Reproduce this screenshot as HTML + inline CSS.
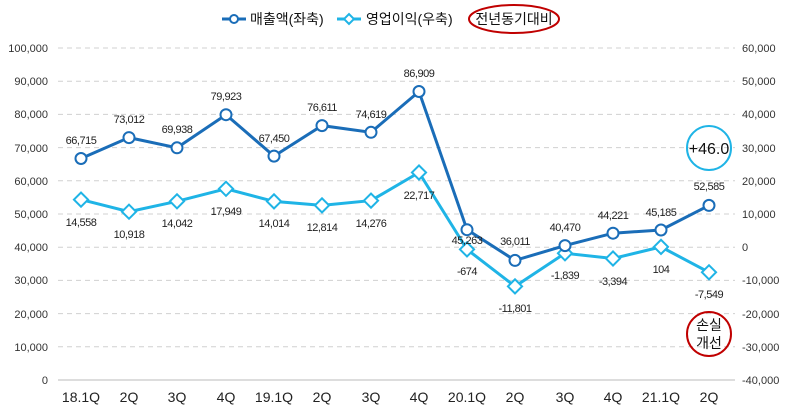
<!DOCTYPE html>
<html><head><meta charset="utf-8"><style>
body{margin:0;background:#fff}
text{font-family:"Liberation Sans","Noto Sans CJK KR",sans-serif}
</style></head><body>
<svg width="788" height="410" xmlns="http://www.w3.org/2000/svg">
<g stroke="#d0d0d0" stroke-dasharray="5,4" stroke-width="1">
<line x1="58" x2="735" y1="48" y2="48"/><line x1="58" x2="735" y1="81.2" y2="81.2"/>
<line x1="58" x2="735" y1="114.4" y2="114.4"/><line x1="58" x2="735" y1="147.6" y2="147.6"/>
<line x1="58" x2="735" y1="180.8" y2="180.8"/><line x1="58" x2="735" y1="214" y2="214"/>
<line x1="58" x2="735" y1="247.2" y2="247.2"/><line x1="58" x2="735" y1="280.4" y2="280.4"/>
<line x1="58" x2="735" y1="313.6" y2="313.6"/><line x1="58" x2="735" y1="346.8" y2="346.8"/>
</g>
<line x1="58" x2="735" y1="380" y2="380" stroke="#bbb"/>
<g font-size="11" fill="#333" text-anchor="end">
<text x="48" y="52">100,000</text><text x="48" y="85">90,000</text><text x="48" y="118">80,000</text>
<text x="48" y="152">70,000</text><text x="48" y="185">60,000</text><text x="48" y="218">50,000</text>
<text x="48" y="251">40,000</text><text x="48" y="284">30,000</text><text x="48" y="318">20,000</text>
<text x="48" y="351">10,000</text><text x="48" y="384">0</text>
</g>
<g font-size="11" fill="#333">
<text x="742" y="52">60,000</text><text x="742" y="85">50,000</text><text x="742" y="118">40,000</text>
<text x="742" y="152">30,000</text><text x="742" y="185">20,000</text><text x="742" y="218">10,000</text>
<text x="742" y="251">0</text><text x="742" y="284">-10,000</text><text x="742" y="318">-20,000</text>
<text x="742" y="351">-30,000</text><text x="742" y="384">-40,000</text>
</g>
<g font-size="14" fill="#222" text-anchor="middle">
<text x="81" y="402">18.1Q</text><text x="129" y="402">2Q</text><text x="177" y="402">3Q</text>
<text x="226" y="402">4Q</text><text x="274" y="402">19.1Q</text><text x="322" y="402">2Q</text>
<text x="371" y="402">3Q</text><text x="419" y="402">4Q</text><text x="467" y="402">20.1Q</text>
<text x="515" y="402">2Q</text><text x="565" y="402">3Q</text><text x="613" y="402">4Q</text>
<text x="661" y="402">21.1Q</text><text x="709" y="402">2Q</text>
</g>
<polyline fill="none" stroke="#1fb4e6" stroke-width="3" points="81,199.6 129,211.7 177,201.3 226,188.8 274,201.4 322,205.4 371,200.6 419,172.5 467,249.4 515,286.4 565,253.3 613,258.5 661,246.9 709,272.3"/>
<g fill="#fff" stroke="#1fb4e6" stroke-width="2">
<rect x="-5" y="-5" width="10" height="10" transform="translate(81,199.6) rotate(45)"/>
<rect x="-5" y="-5" width="10" height="10" transform="translate(129,211.7) rotate(45)"/>
<rect x="-5" y="-5" width="10" height="10" transform="translate(177,201.3) rotate(45)"/>
<rect x="-5" y="-5" width="10" height="10" transform="translate(226,188.8) rotate(45)"/>
<rect x="-5" y="-5" width="10" height="10" transform="translate(274,201.4) rotate(45)"/>
<rect x="-5" y="-5" width="10" height="10" transform="translate(322,205.4) rotate(45)"/>
<rect x="-5" y="-5" width="10" height="10" transform="translate(371,200.6) rotate(45)"/>
<rect x="-5" y="-5" width="10" height="10" transform="translate(419,172.5) rotate(45)"/>
<rect x="-5" y="-5" width="10" height="10" transform="translate(467,249.4) rotate(45)"/>
<rect x="-5" y="-5" width="10" height="10" transform="translate(515,286.4) rotate(45)"/>
<rect x="-5" y="-5" width="10" height="10" transform="translate(565,253.3) rotate(45)"/>
<rect x="-5" y="-5" width="10" height="10" transform="translate(613,258.5) rotate(45)"/>
<rect x="-5" y="-5" width="10" height="10" transform="translate(661,246.9) rotate(45)"/>
<rect x="-5" y="-5" width="10" height="10" transform="translate(709,272.3) rotate(45)"/>
</g>
<polyline fill="none" stroke="#1a6db8" stroke-width="3" points="81,158.5 129,137.6 177,147.8 226,114.7 274,156.1 322,125.6 371,132.3 419,91.5 467,229.7 515,260.4 565,245.6 613,233.2 661,230 709,205.4"/>
<g fill="#fff" stroke="#1a6db8" stroke-width="2">
<circle cx="81" cy="158.5" r="5.5"/><circle cx="129" cy="137.6" r="5.5"/><circle cx="177" cy="147.8" r="5.5"/>
<circle cx="226" cy="114.7" r="5.5"/><circle cx="274" cy="156.1" r="5.5"/><circle cx="322" cy="125.6" r="5.5"/>
<circle cx="371" cy="132.3" r="5.5"/><circle cx="419" cy="91.5" r="5.5"/><circle cx="467" cy="229.7" r="5.5"/>
<circle cx="515" cy="260.4" r="5.5"/><circle cx="565" cy="245.6" r="5.5"/><circle cx="613" cy="233.2" r="5.5"/>
<circle cx="661" cy="230" r="5.5"/><circle cx="709" cy="205.4" r="5.5"/>
</g>
<g font-size="11" fill="#222" text-anchor="middle" letter-spacing="-0.5">
<text x="81" y="144">66,715</text><text x="129" y="123">73,012</text><text x="177" y="133">69,938</text>
<text x="226" y="100">79,923</text><text x="274" y="142">67,450</text><text x="322" y="111">76,611</text>
<text x="371" y="118">74,619</text><text x="419" y="77">86,909</text><text x="467" y="244">45,263</text>
<text x="515" y="245">36,011</text><text x="565" y="231">40,470</text><text x="613" y="219">44,221</text>
<text x="661" y="216">45,185</text><text x="709" y="190">52,585</text>
<text x="81" y="226">14,558</text><text x="129" y="238">10,918</text><text x="177" y="227">14,042</text>
<text x="226" y="215">17,949</text><text x="274" y="227">14,014</text><text x="322" y="231">12,814</text>
<text x="371" y="227">14,276</text><text x="419" y="199">22,717</text><text x="467" y="275">-674</text>
<text x="515" y="312">-11,801</text><text x="565" y="279">-1,839</text><text x="613" y="285">-3,394</text>
<text x="661" y="273">104</text><text x="709" y="298">-7,549</text>
</g>
<circle cx="709" cy="148" r="22" fill="none" stroke="#1fb4e6" stroke-width="2"/>
<text x="709" y="154" font-size="16" text-anchor="middle" fill="#111">+46.0</text>
<circle cx="709" cy="334" r="22" fill="none" stroke="#c00000" stroke-width="2"/>
<text x="709" y="330" font-size="14" text-anchor="middle" fill="#111">손실</text>
<text x="709" y="348" font-size="14" text-anchor="middle" fill="#111">개선</text>
<line x1="222" x2="246" y1="19" y2="19" stroke="#1a6db8" stroke-width="3"/>
<circle cx="234" cy="19" r="4" fill="#fff" stroke="#1a6db8" stroke-width="2"/>
<text x="250" y="24" font-size="14" fill="#111">매출액(좌축)</text>
<line x1="337" x2="361" y1="19" y2="19" stroke="#1fb4e6" stroke-width="3"/>
<rect x="-3.5" y="-3.5" width="7" height="7" transform="translate(349,19) rotate(45)" fill="#fff" stroke="#1fb4e6" stroke-width="2"/>
<text x="366" y="24" font-size="14" fill="#111">영업이익(우축)</text>
<ellipse cx="514" cy="19" rx="45" ry="14" fill="none" stroke="#c00000" stroke-width="2"/>
<text x="514" y="24" font-size="14" text-anchor="middle" fill="#111">전년동기대비</text>
</svg>
</body></html>
